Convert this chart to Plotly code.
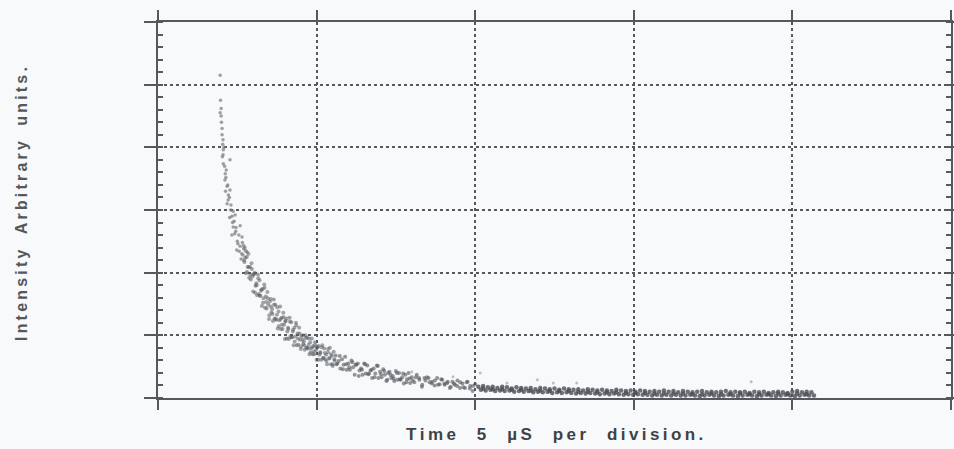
import plotly.graph_objects as go

# Luminescence decay trace: (time in microseconds, intensity in screen divisions).

# Fast initial drop (sparse samples)
early = [(1.96, 5.15), (1.97, 4.75), (1.99, 4.62), (1.96, 4.55), (1.99, 4.50),
         (2.00, 4.40), (2.02, 4.30), (2.02, 4.20), (2.05, 4.12), (2.04, 4.05),
         (2.08, 4.00), (2.06, 3.96), (2.05, 3.88), (2.03, 3.85), (2.27, 3.80),
         (2.06, 3.74), (2.10, 3.70), (2.15, 3.64), (2.12, 3.58), (2.14, 3.52),
         (2.11, 3.48), (2.20, 3.40), (2.18, 3.38), (2.27, 3.32), (2.13, 3.30),
         (2.22, 3.24), (2.25, 3.20), (2.21, 3.16), (2.18, 3.10), (2.30, 3.08),
         (2.29, 3.00), (2.37, 2.98), (2.33, 2.90), (2.43, 2.92), (2.26, 2.88),
         (2.40, 2.82), (2.35, 2.80), (2.37, 2.73), (2.59, 2.75), (2.46, 2.72),
         (2.45, 2.66), (2.42, 2.62), (2.33, 2.60), (2.55, 2.60), (2.65, 2.57),
         (2.50, 2.50), (2.66, 2.48), (2.52, 2.46), (2.59, 2.42), (2.74, 2.40),
         (2.70, 2.38), (2.48, 2.36), (2.56, 2.34), (2.81, 2.33), (2.64, 2.30),
         (2.68, 2.28), (2.62, 2.22)]

# Knee of the decay (dense band)
knee = [(2.700, 2.43), (2.725, 2.17), (2.750, 2.24), (2.775, 1.99), (2.800, 2.25),
        (2.825, 2.09), (2.850, 2.30), (2.875, 1.92), (2.900, 2.09), (2.925, 1.89),
        (2.950, 2.15), (2.975, 1.94), (3.000, 1.70), (3.025, 1.98), (3.050, 2.00),
        (3.075, 1.79), (3.100, 1.83), (3.125, 1.64), (3.150, 1.97), (3.175, 1.66),
        (3.200, 1.88), (3.225, 1.63), (3.250, 1.71), (3.275, 1.47), (3.300, 1.74),
        (3.325, 1.59), (3.350, 1.81), (3.375, 1.44), (3.400, 1.62), (3.425, 1.43),
        (3.450, 1.69), (3.475, 1.49), (3.500, 1.26), (3.525, 1.54), (3.550, 1.58),
        (3.575, 1.37), (3.600, 1.42), (3.625, 1.23), (3.650, 1.57), (3.675, 1.27),
        (3.700, 1.49), (3.725, 1.25), (3.750, 1.33), (3.775, 1.11), (3.800, 1.38),
        (3.825, 1.24), (3.850, 1.46), (3.875, 1.10), (3.900, 1.28), (3.925, 1.10),
        (3.950, 1.36), (3.975, 1.17), (4.000, 0.94), (4.025, 1.23), (4.050, 1.27),
        (4.075, 1.06), (4.100, 1.12), (4.125, 0.94), (4.150, 1.28), (4.175, 0.98),
        (4.200, 1.21), (4.225, 0.97), (4.250, 1.06), (4.275, 0.84), (4.300, 1.12),
        (4.325, 0.98), (4.350, 1.20), (4.375, 0.84), (4.400, 1.03), (4.425, 0.85),
        (4.450, 1.12), (4.475, 0.93), (4.500, 0.78), (4.525, 0.98), (4.550, 1.00),
        (4.575, 0.86), (4.600, 0.90), (4.625, 0.77), (4.650, 1.00), (4.675, 0.80),
        (4.700, 0.96), (4.725, 0.79), (4.750, 0.85), (4.775, 0.70), (4.800, 0.89),
        (4.825, 0.79), (4.850, 0.95), (4.875, 0.70), (4.900, 0.83), (4.925, 0.70),
        (4.950, 0.89), (4.975, 0.76), (5.000, 0.61), (5.030, 0.81), (5.060, 0.83),
        (5.090, 0.69), (5.120, 0.73), (5.150, 0.61), (5.180, 0.84), (5.210, 0.64),
        (5.240, 0.79), (5.270, 0.62), (5.300, 0.69), (5.330, 0.54), (5.360, 0.73),
        (5.390, 0.63), (5.420, 0.80), (5.450, 0.54), (5.480, 0.67), (5.510, 0.54),
        (5.540, 0.74), (5.570, 0.60),
        (2.71, 2.20), (2.76, 2.35), (2.81, 2.01), (2.86, 2.09), (2.91, 1.97),
        (2.96, 2.06), (3.01, 1.97), (3.06, 1.68), (3.11, 1.80), (3.16, 1.91),
        (3.21, 1.63), (3.26, 1.73), (3.31, 1.52), (3.36, 1.76), (3.41, 1.53),
        (3.46, 1.59), (3.51, 1.32), (3.56, 1.46), (3.61, 1.34), (3.66, 1.49),
        (3.71, 1.26), (3.76, 1.45), (3.81, 1.15), (3.86, 1.26), (3.91, 1.17),
        (3.96, 1.29), (4.01, 1.22), (4.06, 0.95), (4.11, 1.10), (4.16, 1.22),
        (4.21, 0.97), (4.26, 1.09), (4.31, 0.90), (4.36, 1.16), (4.41, 0.95),
        (4.46, 1.03), (4.51, 0.82), (4.56, 0.93), (4.61, 0.84), (4.66, 0.96),
        (4.71, 0.80), (4.76, 0.95), (4.81, 0.73), (4.86, 0.81), (4.91, 0.74),
        (4.96, 0.84), (5.01, 0.80), (5.06, 0.61), (5.11, 0.72), (5.16, 0.81),
        (5.21, 0.64), (5.26, 0.72), (5.31, 0.59), (5.36, 0.78), (5.41, 0.64),
        (5.46, 0.70), (5.51, 0.51), (5.56, 0.62)]

# Slow part of the decay
slow = [(5.60, 0.68), (5.65, 0.55), (5.70, 0.59), (5.75, 0.47), (5.80, 0.62),
        (5.85, 0.53), (5.90, 0.66), (5.95, 0.45), (6.00, 0.55), (6.05, 0.45),
        (6.10, 0.60), (6.15, 0.49), (6.20, 0.37), (6.25, 0.53), (6.30, 0.55),
        (6.35, 0.44), (6.40, 0.47), (6.45, 0.37), (6.50, 0.55), (6.55, 0.39),
        (6.60, 0.52), (6.65, 0.39), (6.70, 0.44), (6.75, 0.32), (6.80, 0.47),
        (6.85, 0.39), (6.90, 0.52), (6.95, 0.32), (7.00, 0.42), (7.05, 0.33),
        (7.10, 0.46), (7.15, 0.37), (7.20, 0.27), (7.25, 0.40), (7.30, 0.42),
        (7.35, 0.32), (7.40, 0.35), (7.45, 0.27), (7.50, 0.43), (7.55, 0.29),
        (7.60, 0.40), (7.65, 0.29), (7.70, 0.33), (7.75, 0.23), (7.80, 0.37),
        (7.85, 0.30), (7.90, 0.40), (7.95, 0.24), (8.00, 0.33), (8.08, 0.25),
        (8.16, 0.37), (8.24, 0.29), (8.32, 0.18), (8.40, 0.32), (8.48, 0.33),
        (8.56, 0.25), (8.64, 0.26), (8.72, 0.20), (8.80, 0.32), (8.88, 0.22),
        (8.96, 0.29), (9.04, 0.21), (9.12, 0.24), (9.20, 0.16), (9.28, 0.26),
        (9.36, 0.21), (9.44, 0.28), (9.52, 0.16), (9.60, 0.23), (9.68, 0.16),
        (9.76, 0.26), (9.84, 0.19), (9.92, 0.11), (10.00, 0.22),
        (5.63, 0.54), (5.73, 0.67), (5.83, 0.46), (5.93, 0.54), (6.03, 0.49),
        (6.13, 0.57), (6.23, 0.53), (6.33, 0.35), (6.43, 0.45), (6.53, 0.54),
        (6.63, 0.38), (6.73, 0.45), (6.83, 0.33), (6.93, 0.51), (7.03, 0.38),
        (7.13, 0.43), (7.23, 0.29), (7.33, 0.37), (7.43, 0.31), (7.53, 0.40),
        (7.63, 0.30), (7.73, 0.39), (7.83, 0.25), (7.93, 0.31), (8.03, 0.28),
        (8.13, 0.33), (8.23, 0.32), (8.33, 0.21), (8.43, 0.28), (8.53, 0.32),
        (8.63, 0.23), (8.73, 0.28), (8.83, 0.21), (8.93, 0.30), (9.03, 0.23),
        (9.13, 0.26), (9.23, 0.18), (9.33, 0.23), (9.43, 0.19), (9.53, 0.25),
        (9.63, 0.17), (9.73, 0.25), (9.83, 0.15), (9.93, 0.19)]

# Long tail close to the baseline
tail = [(10.10, 0.18), (10.25, 0.19), (10.40, 0.17), (10.55, 0.18), (10.70, 0.16),
        (10.85, 0.18), (11.00, 0.17), (11.15, 0.15), (11.30, 0.17), (11.45, 0.16),
        (11.60, 0.15), (11.75, 0.16), (11.90, 0.14), (12.05, 0.16), (12.20, 0.15),
        (12.35, 0.14), (12.50, 0.15), (12.65, 0.13), (12.80, 0.15), (12.95, 0.14),
        (13.10, 0.13), (13.25, 0.14), (13.40, 0.12), (13.55, 0.14), (13.70, 0.13),
        (13.85, 0.12), (14.00, 0.13), (14.15, 0.12), (14.30, 0.11), (14.45, 0.13),
        (14.60, 0.12), (14.75, 0.11), (14.90, 0.12), (15.05, 0.10), (15.20, 0.12),
        (15.35, 0.11), (15.50, 0.10), (15.65, 0.11), (15.80, 0.10), (15.95, 0.12),
        (16.10, 0.10), (16.25, 0.11), (16.40, 0.09), (16.55, 0.11), (16.70, 0.10),
        (16.85, 0.09), (17.00, 0.10), (17.15, 0.11), (17.30, 0.09), (17.45, 0.10),
        (17.60, 0.09), (17.75, 0.10), (17.90, 0.11), (18.05, 0.09), (18.20, 0.10),
        (18.35, 0.09), (18.50, 0.10), (18.65, 0.08), (18.80, 0.10), (18.95, 0.09),
        (19.10, 0.10), (19.25, 0.08), (19.40, 0.09), (19.55, 0.10), (19.70, 0.09),
        (19.85, 0.08), (20.00, 0.10), (20.15, 0.11), (20.30, 0.09), (20.45, 0.10),
        (20.60, 0.09),
        (10.25, 0.15), (10.55, 0.14), (10.85, 0.14), (11.15, 0.13), (11.45, 0.13),
        (11.75, 0.12), (12.05, 0.12), (12.35, 0.11), (12.65, 0.11), (12.95, 0.11),
        (13.25, 0.10), (13.55, 0.10), (13.85, 0.09), (14.15, 0.09), (14.45, 0.09),
        (14.75, 0.08), (15.05, 0.08), (15.35, 0.08), (15.65, 0.07), (15.95, 0.07),
        (16.25, 0.07), (16.55, 0.07), (16.85, 0.06), (17.15, 0.06), (17.45, 0.07),
        (17.75, 0.06), (18.05, 0.06), (18.35, 0.07), (18.65, 0.06), (18.95, 0.06),
        (19.25, 0.06), (19.55, 0.07), (19.85, 0.06), (20.15, 0.07), (20.45, 0.06),
        (10.18, 0.13), (10.33, 0.12), (10.48, 0.13), (10.63, 0.11), (10.78, 0.12),
        (10.93, 0.11), (11.08, 0.12), (11.23, 0.10), (11.38, 0.11), (11.53, 0.10),
        (11.68, 0.11), (11.83, 0.09), (11.98, 0.10), (12.13, 0.09), (12.28, 0.10),
        (12.43, 0.08), (12.58, 0.09), (12.73, 0.08), (12.88, 0.09), (13.03, 0.08),
        (13.18, 0.07), (13.33, 0.08), (13.48, 0.07), (13.63, 0.08), (13.78, 0.07),
        (13.93, 0.06), (14.08, 0.07), (14.23, 0.06), (14.38, 0.07), (14.53, 0.06),
        (14.68, 0.05), (14.83, 0.06), (14.98, 0.05), (15.13, 0.06), (15.28, 0.05),
        (15.43, 0.05), (15.58, 0.04), (15.73, 0.05), (15.88, 0.04), (16.03, 0.05),
        (16.18, 0.04), (16.33, 0.05), (16.48, 0.04), (16.63, 0.04), (16.78, 0.05),
        (16.93, 0.04), (17.08, 0.03), (17.23, 0.04), (17.38, 0.05), (17.53, 0.04),
        (17.68, 0.03), (17.83, 0.04), (17.98, 0.05), (18.13, 0.04), (18.28, 0.03),
        (18.43, 0.04), (18.58, 0.05), (18.73, 0.04), (18.88, 0.03), (19.03, 0.04),
        (19.18, 0.05), (19.33, 0.04), (19.48, 0.03), (19.63, 0.04), (19.78, 0.05),
        (19.93, 0.04), (20.08, 0.03), (20.23, 0.04), (20.38, 0.05), (20.53, 0.04),
        (20.68, 0.04)]

# Isolated stray samples above the main band
stray = [(10.16, 0.40), (11.00, 0.24), (11.96, 0.29), (12.46, 0.24), (13.20, 0.24),
         (8.00, 0.42), (9.30, 0.34), (18.70, 0.26), (20.00, 5.70)]

# Screen divisions
x_ticks = [0, 5, 10, 15, 20, 25]
y_ticks = [0, 1, 2, 3, 4, 5, 6]

INK = "#55595d"
BG = "#f7f9fb"

segments = [
    (early, dict(size=3.5, color="#767a7e", opacity=0.7)),
    (knee, dict(size=4, color="#5a5e62", opacity=0.55)),
    (slow, dict(size=4, color="#505458", opacity=0.6)),
    (tail, dict(size=4.5, color="#4a4e52", opacity=0.8)),
    (stray, dict(size=3, color="#a2a6aa", opacity=0.7)),
]

fig = go.Figure()
for pts, marker in segments:
    t_vals, i_vals = zip(*pts)
    fig.add_trace(go.Scatter(x=list(t_vals), y=list(i_vals), mode="markers",
                             marker=dict(line=dict(width=0), **marker),
                             hoverinfo="skip", showlegend=False))

fig.update_xaxes(range=[0, 25], tickvals=x_ticks, showticklabels=False,
                 ticks="outside", ticklen=10, tickwidth=2, tickcolor=INK,
                 showline=True, linecolor=INK, linewidth=2, mirror="ticks",
                 showgrid=True, gridcolor=INK, gridwidth=1.5, griddash="dot",
                 zeroline=False, automargin=False)
fig.update_yaxes(range=[0, 6], tickvals=y_ticks, showticklabels=False,
                 ticks="outside", ticklen=12, tickwidth=2, tickcolor=INK,
                 showline=True, linecolor=INK, linewidth=2, mirror="ticks",
                 showgrid=True, gridcolor=INK, gridwidth=1.5, griddash="dot",
                 zeroline=False, automargin=False,
                 minor=dict(dtick=0.2, ticks="inside", ticklen=5, tickwidth=1.5,
                            tickcolor=INK, showgrid=False))


def spaced(text, gap, word_gap):
    """Letter-spaced label: glyphs separated by a narrow space, words by a wide gap."""
    words = text.split(" ")
    sep = gap + word_gap + gap
    return sep.join(gap.join(w) for w in words)


fig.add_annotation(text=spaced("Time 5 µS per division.", "\u2009", "\u00a0" * 3),
                   xref="paper", yref="paper", x=0.5, y=0, yshift=-36,
                   xanchor="center", yanchor="middle", showarrow=False,
                   font=dict(family="Liberation Sans, Arial", size=17,
                             color="#3f4245", weight="bold"))
fig.add_annotation(text=spaced("Intensity Arbitrary units.", "\u2009", "\u00a0" * 2),
                   xref="paper", yref="paper", x=0, y=0.5, xshift=-137, yshift=6,
                   xanchor="center", yanchor="middle", textangle=-90, showarrow=False,
                   font=dict(family="Liberation Sans, Arial", size=16,
                             color="#55585b", weight="bold"))

fig.update_layout(width=954, height=449,
                  margin=dict(l=158, r=3, t=22, b=51),
                  paper_bgcolor=BG, plot_bgcolor=BG)

fig.write_html("out.html")
